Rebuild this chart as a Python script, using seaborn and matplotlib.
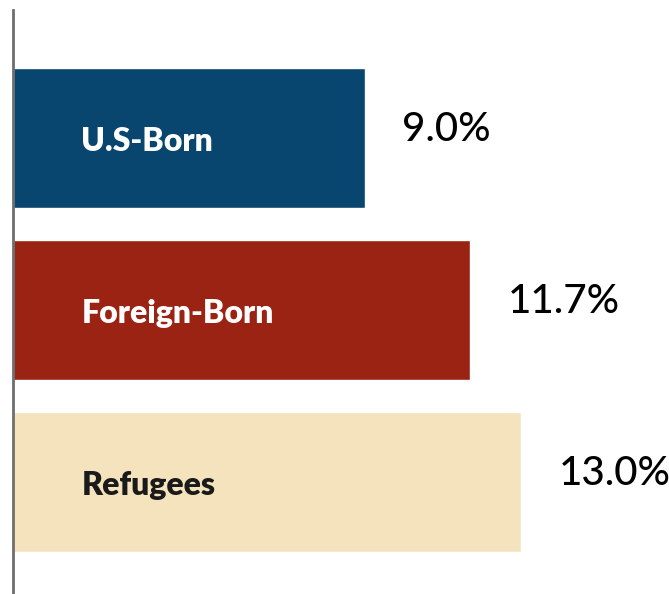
import pandas as pd
import seaborn as sns
import matplotlib.pyplot as plt

# data
groups = ['U.S-Born', 'Foreign-Born', 'Refugees']
rates = [9.0, 11.7, 13.0]
value_labels = ['9.0%', '11.7%', '13.0%']
bar_colors = ['#08456F', '#9B2313', '#F4E3BD']
name_colors = ['white', 'white', '#1A1A1A']

df = pd.DataFrame({'Group': groups, 'Rate': rates})

sns.set_style('white')
plt.rcParams['font.family'] = ['Lato', 'DejaVu Sans']

fig = plt.figure(figsize=(6.69, 5.94), dpi=100)
ax = fig.add_axes([13 / 669, 0, 656 / 669, 584 / 594])

sns.barplot(data=df, x='Rate', y='Group', hue='Group', palette=bar_colors,
            orient='h', width=0.814, legend=False, ax=ax, saturation=1)

ax.set_xlim(0, 16.78)
ax.set_ylim(2.651, -0.744)

# category names inside the bars
for i, (g, c) in enumerate(zip(groups, name_colors)):
    ax.text(1.75, i + 0.02, g, color=c, fontsize=23, fontweight='heavy',
            va='center', ha='left')

# value labels next to the bars
for i, (v, lab) in enumerate(zip(rates, value_labels)):
    ax.text(v + 0.95, i - 0.05, lab, color='black', fontsize=29,
            fontweight='medium', va='center', ha='left')

for s in ['top', 'right', 'bottom']:
    ax.spines[s].set_visible(False)
ax.spines['left'].set_color('#6E6E6E')
ax.spines['left'].set_linewidth(2)

ax.set_xticks([])
ax.set_yticks([])
ax.set_xlabel('')
ax.set_ylabel('')

fig.savefig('out.png', dpi=100, facecolor='white')
